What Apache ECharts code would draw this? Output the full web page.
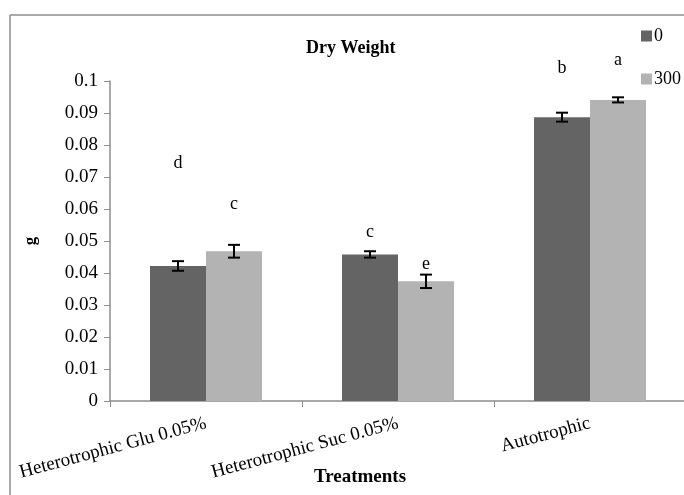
<!DOCTYPE html>
<html>
<head>
<meta charset="utf-8">
<script src="https://cdn.jsdelivr.net/npm/echarts@6/dist/echarts.min.js"></script>
<style>
    html, body { margin: 0; padding: 0; background: #fff; }
    #chart { width: 684px; height: 495px; }
</style>
</head>
<body>
<div id="chart"></div>
<script>
var categories = ['Heterotrophic Glu 0.05%', 'Heterotrophic Suc 0.05%', 'Autotrophic'];
var seriesNames = ['0', '300'];
var values0 = [0.0422, 0.0458, 0.0887];
var values300 = [0.0468, 0.0374, 0.0941];
var err0 = [0.0015, 0.001, 0.0014];
var err300 = [0.002, 0.0021, 0.0008];
var letters0 = ['d', 'c', 'b'];
var letters300 = ['c', 'e', 'a'];
var letterY0 = [0.0744, 0.0528, 0.104];
var letterY300 = [0.0616, 0.0428, 0.1066];

var font = '"Liberation Serif", "Times New Roman", serif';
var barW = 56;

function errData(vals, errs) {
    return vals.map(function (v, i) { return [i, v, errs[i]]; });
}
function letterData(ys) {
    return ys.map(function (v, i) { return [i, v]; });
}

// error bar with caps, shifted onto its bar
function errRender(offset) {
    return function (params, api) {
        var hi = api.coord([api.value(0), api.value(1) + api.value(2)]);
        var lo = api.coord([api.value(0), api.value(1) - api.value(2)]);
        var x = hi[0] + offset;
        var style = { stroke: '#000', lineWidth: 2 };
        return {
            type: 'group',
            children: [
                { type: 'line', shape: { x1: x, y1: hi[1], x2: x, y2: lo[1] }, style: style },
                { type: 'line', shape: { x1: x - 6, y1: hi[1], x2: x + 6, y2: hi[1] }, style: style },
                { type: 'line', shape: { x1: x - 6, y1: lo[1], x2: x + 6, y2: lo[1] }, style: style }
            ]
        };
    };
}

function letterRender(offset, txt) {
    return function (params, api) {
        var p = api.coord([api.value(0), api.value(1)]);
        return {
            type: 'text',
            x: p[0] + offset,
            y: p[1],
            style: {
                text: txt[params.dataIndex],
                fill: '#000',
                font: '18px ' + font,
                align: 'center',
                verticalAlign: 'middle'
            }
        };
    };
}

var chart = echarts.init(document.getElementById('chart'));
chart.setOption({
    animation: false,
    textStyle: { fontFamily: font },
    title: {
        text: 'Dry Weight',
        left: 301,
        top: 34,
        textStyle: { fontFamily: font, fontSize: 18, fontWeight: 'bold', color: '#000' }
    },
    legend: {
        orient: 'vertical',
        left: 636,
        top: 22,
        itemWidth: 11,
        itemHeight: 11,
        itemGap: 25,
        icon: 'rect',
        data: seriesNames,
        textStyle: { fontFamily: font, fontSize: 18, color: '#000', padding: [0, 0, 0, -3] }
    },
    graphic: [
        { type: 'line', shape: { x1: 10, y1: 15, x2: 10, y2: 495 }, style: { stroke: '#8c8c8c', lineWidth: 1.5 } },
        { type: 'line', shape: { x1: 10, y1: 15, x2: 684, y2: 15 }, style: { stroke: '#8c8c8c', lineWidth: 1.5 } }
    ],
    grid: { left: 110, right: -2, top: 81, bottom: 94, containLabel: false, outerBoundsMode: 'none' },
    xAxis: {
        type: 'category',
        data: categories,
        name: 'Treatments',
        nameLocation: 'center',
        nameGap: 67,
        nameMoveOverlap: false,
        nameTextStyle: { fontFamily: font, fontSize: 19, fontWeight: 'bold', color: '#000', padding: [0, 76, 0, 0] },
        axisLine: { lineStyle: { color: '#8c8c8c', width: 1.5 } },
        axisTick: { show: true, length: 6, lineStyle: { color: '#8c8c8c' } },
        axisLabel: { rotate: 15, margin: 22, fontFamily: font, fontSize: 19, color: '#000', hideOverlap: false, interval: 0 }
    },
    yAxis: {
        type: 'value',
        min: 0,
        max: 0.1,
        interval: 0.01,
        name: 'g',
        nameLocation: 'center',
        nameGap: 71,
        nameTextStyle: { fontFamily: font, fontSize: 17, fontWeight: 'bold', color: '#000' },
        axisLine: { show: true, lineStyle: { color: '#8c8c8c', width: 1.5 } },
        axisTick: { show: true, length: 6, lineStyle: { color: '#8c8c8c' } },
        splitLine: { show: false },
        axisLabel: {
            margin: 12,
            fontFamily: font,
            fontSize: 19,
            color: '#000',
            formatter: function (v) { return String(+v.toFixed(2)); }
        }
    },
    series: [
        {
            name: seriesNames[0], type: 'bar', data: values0,
            barWidth: barW, barGap: '0%',
            itemStyle: { color: '#646464' }
        },
        {
            name: seriesNames[1], type: 'bar', data: values300,
            barWidth: barW, barGap: '0%',
            itemStyle: { color: '#b3b3b3' }
        },
        { type: 'custom', renderItem: errRender(-barW / 2), data: errData(values0, err0), z: 5, clip: false },
        { type: 'custom', renderItem: errRender(barW / 2), data: errData(values300, err300), z: 5, clip: false },
        { type: 'custom', renderItem: letterRender(-barW / 2, letters0), data: letterData(letterY0), z: 5, clip: false },
        { type: 'custom', renderItem: letterRender(barW / 2, letters300), data: letterData(letterY300), z: 5, clip: false }
    ]
});
</script>
</body>
</html>
